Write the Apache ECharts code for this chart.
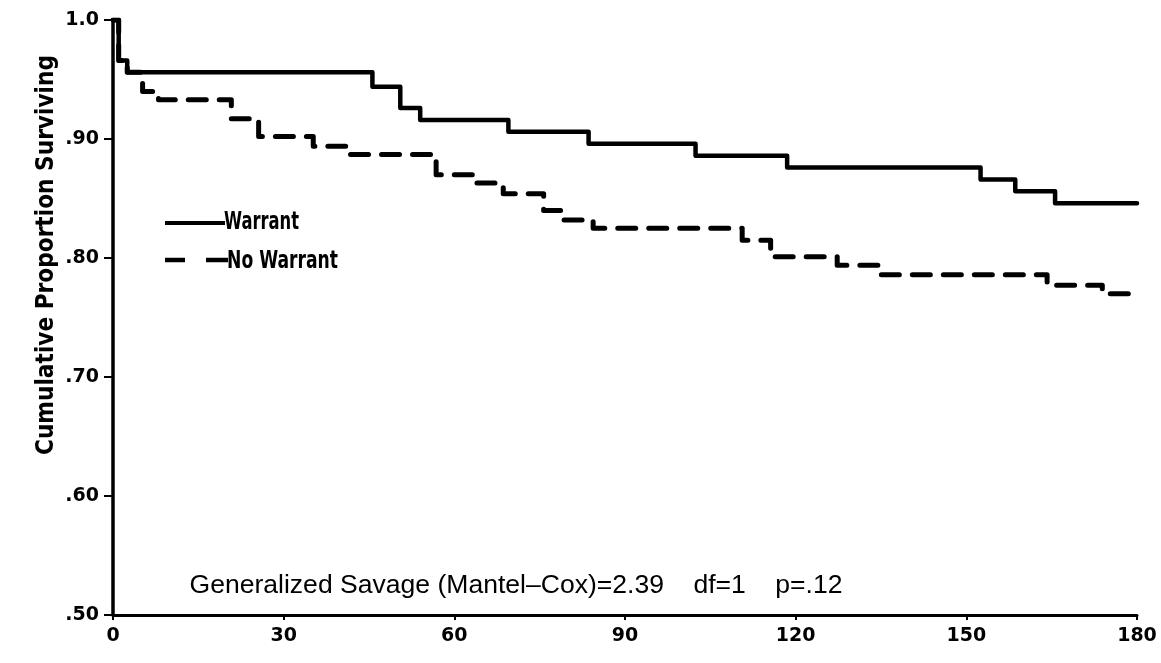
<!DOCTYPE html>
<html>
<head>
<meta charset="utf-8">
<script src="https://cdn.jsdelivr.net/npm/echarts@6/dist/echarts.min.js"></script>
<style>
html,body{margin:0;padding:0;background:#fff;}
#chart{width:1161px;height:663px;}
</style>
</head>
<body>
<div id="chart"></div>
<script>
// Data (days, cumulative proportion surviving)
const seriesNames = ['Warrant', 'No Warrant'];
const warrantDays = [0, 1, 2.5, 45.6, 50.5, 54.0, 69.5, 83.6, 102.4, 118.5, 152.5, 158.6, 165.6, 180];
const warrantSurv = [1.0, 0.966, 0.956, 0.944, 0.926, 0.916, 0.906, 0.896, 0.886, 0.876, 0.866, 0.856, 0.846, 0.846];
const noWarrantDays = [0, 1, 2.5, 5.2, 8.0, 20.8, 25.6, 35.2, 40.9, 56.8, 63.3, 68.6, 75.7, 78.8, 84.4, 110.6, 115.6, 127.3, 134.6, 164.2, 173.9, 180];
const noWarrantSurv = [1.0, 0.966, 0.956, 0.940, 0.933, 0.917, 0.902, 0.894, 0.887, 0.870, 0.863, 0.854, 0.840, 0.832, 0.825, 0.815, 0.801, 0.794, 0.786, 0.777, 0.770, 0.770];
const xTicks = [0, 30, 60, 90, 120, 150, 180];
const yTicks = [0.5, 0.6, 0.7, 0.8, 0.9, 1.0];
const yTitle = 'Cumulative Proportion Surviving';
const statText = 'Generalized Savage (Mantel\u2013Cox)=2.39    df=1    p=.12';

const chart = echarts.init(document.getElementById('chart'));
const boldFont = "'DejaVu Sans', sans-serif";
const condFont = "'DejaVu Sans Condensed', 'Liberation Sans Narrow', 'Liberation Sans', sans-serif";
const thinFont = "'Liberation Sans', 'DejaVu Sans', sans-serif";

// measure text width to fit a target span
const mctx = document.createElement('canvas').getContext('2d');
function textW(font, s) { mctx.font = font; return mctx.measureText(s).width; }

function pairs(xs, ys) { return xs.map((x, i) => [x, ys[i]]); }

const yTitleFont = 'bold 25px ' + condFont;
const yTitleScale = 400 / textW(yTitleFont, yTitle);
const statFont = '25px ' + thinFont;
const statScale = 653 / textW(statFont, statText);
const legFont = 'bold 25px ' + condFont;
const leg1Scale = 75 / textW(legFont, seriesNames[0]);
const leg2Scale = 111 / textW(legFont, seriesNames[1]);

const option = {
  animation: false,
  backgroundColor: '#fff',
  grid: { left: 113, right: 24, top: 20, bottom: 48, containLabel: false },
  legend: { show: false, data: seriesNames },
  xAxis: {
    type: 'value',
    min: xTicks[0], max: xTicks[xTicks.length - 1], interval: 30,
    splitLine: { show: false },
    axisLine: { lineStyle: { color: '#000', width: 3 } },
    axisTick: { length: 5, lineStyle: { color: '#000', width: 2 } },
    axisLabel: { margin: 12, color: '#000', fontFamily: boldFont, fontWeight: 'bold', fontSize: 19 }
  },
  yAxis: {
    type: 'value',
    min: yTicks[0], max: yTicks[yTicks.length - 1], interval: 0.1,
    splitLine: { show: false },
    axisLine: { lineStyle: { color: '#000', width: 3.5 } },
    axisTick: { length: 9, lineStyle: { color: '#000', width: 2 } },
    axisLabel: {
      margin: 14, color: '#000', fontFamily: boldFont, fontWeight: 'bold', fontSize: 19,
      formatter: v => Math.abs(v - 1) < 1e-6 ? '1.0' : '.' + Math.round(v * 100)
    }
  },
  series: [
    {
      name: seriesNames[0], type: 'line', step: 'end', symbol: 'none',
      data: pairs(warrantDays, warrantSurv),
      lineStyle: { color: '#000', width: 4.5, cap: 'round', join: 'round' },
      itemStyle: { color: '#000' }
    },
    {
      name: seriesNames[1], type: 'line', step: 'end', symbol: 'none',
      data: pairs(noWarrantDays, noWarrantSurv),
      lineStyle: { color: '#000', width: 5, type: [18, 13], cap: 'round', join: 'round' },
      itemStyle: { color: '#000' }
    }
  ],
  graphic: [
    {
      type: 'text', x: 46, y: 255, rotation: Math.PI / 2, scaleX: yTitleScale, scaleY: 1,
      style: { text: yTitle, font: yTitleFont, fill: '#000', align: 'center', verticalAlign: 'middle' }
    },
    {
      type: 'text', x: 516, y: 586, scaleX: statScale, scaleY: 1,
      style: { text: statText, font: statFont, fill: '#000', align: 'center', verticalAlign: 'middle' }
    },
    // legend
    { type: 'line', shape: { x1: 165, y1: 223, x2: 225, y2: 223 }, style: { stroke: '#000', lineWidth: 4 } },
    { type: 'line', shape: { x1: 165, y1: 260, x2: 185, y2: 260 }, style: { stroke: '#000', lineWidth: 4.5 } },
    { type: 'line', shape: { x1: 206, y1: 260, x2: 228, y2: 260 }, style: { stroke: '#000', lineWidth: 4.5 } },
    {
      type: 'text', x: 224, y: 222, scaleX: leg1Scale,
      style: { text: seriesNames[0], font: legFont, fill: '#000', align: 'left', verticalAlign: 'middle' }
    },
    {
      type: 'text', x: 227, y: 261, scaleX: leg2Scale,
      style: { text: seriesNames[1], font: legFont, fill: '#000', align: 'left', verticalAlign: 'middle' }
    }
  ]
};
chart.setOption(option);
</script>
</body>
</html>
